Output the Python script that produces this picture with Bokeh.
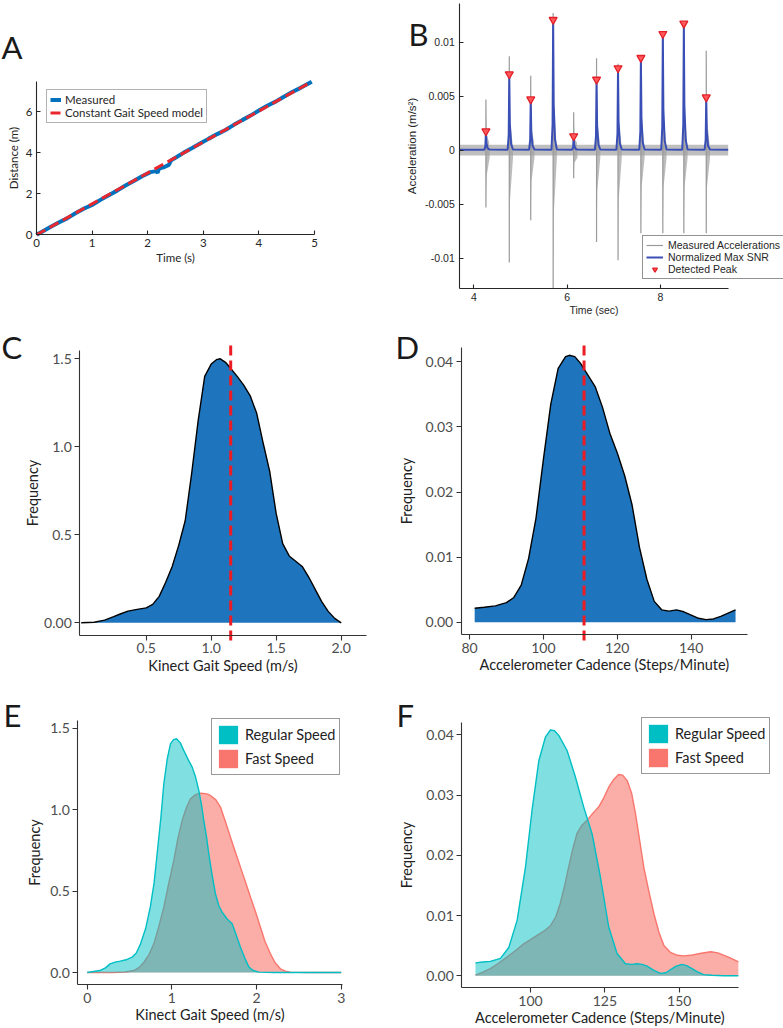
from bokeh.plotting import figure
from bokeh.layouts import column, row
from bokeh.models import Range1d, FixedTicker, Legend, LegendItem, Label, NumeralTickFormatter
from bokeh.embed import file_html
from bokeh.resources import INLINE

# ---------------- Panel A: distance over time ----------------
time_s = [0.0, 0.1, 0.25, 0.4, 0.55, 0.7, 0.85, 1.0, 1.15, 1.3, 1.45, 1.6, 1.75, 1.9,
          2.05, 2.15, 2.18, 2.2, 2.3, 2.38, 2.42, 2.5, 2.65, 2.8, 2.95, 3.1, 3.25, 3.4,
          3.55, 3.7, 3.85, 4.0, 4.15, 4.3, 4.45, 4.6, 4.75, 4.95]
distance_m = [0.0, 0.15, 0.38, 0.6, 0.8, 1.05, 1.27, 1.45, 1.7, 1.93, 2.15, 2.4, 2.62, 2.85,
              3.05, 3.1, 3.02, 3.22, 3.3, 3.4, 3.62, 3.75, 4.0, 4.22, 4.45, 4.68, 4.9, 5.1,
              5.35, 5.58, 5.8, 6.05, 6.28, 6.48, 6.72, 6.95, 7.15, 7.45]
model_time = [0.0, 4.95]
model_distance = [0.0, 7.45]

# ---------------- Panel B: step detection ----------------
step_t = [4.26, 4.76, 5.22, 5.70, 6.14, 6.63, 7.09, 7.58, 8.05, 8.50, 8.98]
peak_snr = [0.00176, 0.00704, 0.00472, 0.01207, 0.0013, 0.00654, 0.0076, 0.00855, 0.01077, 0.01173, 0.0049]
acc_pos = [0.0047, 0.0087, 0.0069, 0.0127, 0.0035, 0.0085, 0.0080, 0.0087, 0.0105, 0.0118, 0.0092]
acc_neg = [-0.0053, -0.0104, -0.0065, -0.0128, -0.0026, -0.0085, -0.0102, -0.0077, -0.0077, -0.0077, -0.0077]
noise_level = 0.0005
signal_span = [3.70, 9.45]

# ---------------- Panel C: gait speed density ----------------
speed_x = [0.0, 0.10, 0.18, 0.25, 0.30, 0.36, 0.42, 0.50, 0.55, 0.60, 0.65, 0.70, 0.75, 0.80,
           0.85, 0.90, 0.95, 1.00, 1.04, 1.07, 1.11, 1.15, 1.20, 1.25, 1.30, 1.35, 1.40, 1.45,
           1.50, 1.55, 1.60, 1.65, 1.70, 1.75, 1.80, 1.85, 1.90, 1.95, 2.00]
speed_y = [0.0, 0.003, 0.015, 0.035, 0.05, 0.066, 0.075, 0.085, 0.105, 0.15, 0.23, 0.32, 0.44, 0.58,
           0.85, 1.15, 1.40, 1.47, 1.495, 1.5, 1.48, 1.445, 1.40, 1.35, 1.29, 1.19, 1.02, 0.86,
           0.62, 0.45, 0.38, 0.35, 0.32, 0.26, 0.19, 0.12, 0.065, 0.025, 0.0]
mean_speed = 1.15

# ---------------- Panel D: cadence density ----------------
cad_x = [81.4, 84, 87, 90, 92, 94, 96, 98, 100, 102, 104, 106, 107, 108.5, 110, 112, 114, 116,
         118, 120, 122, 124, 126, 128, 130, 132, 134, 136, 138, 140, 142, 144, 146, 148, 150, 152]
cad_y = [0.00215, 0.0023, 0.0025, 0.003, 0.0038, 0.0057, 0.0098, 0.016, 0.025, 0.0335, 0.039,
         0.0408, 0.041, 0.0408, 0.0398, 0.038, 0.0362, 0.0330, 0.0290, 0.0260, 0.0225, 0.018,
         0.0115, 0.0066, 0.0032, 0.0019, 0.0017, 0.0019, 0.0016, 0.0011, 0.0006, 0.0004, 0.0005,
         0.0009, 0.0014, 0.0019]
mean_cadence = 111.0

# ---------------- Panel E: gait speed by condition ----------------
reg_speed_x = [0.0, 0.15, 0.22, 0.27, 0.33, 0.39, 0.46, 0.53, 0.58, 0.63, 0.69, 0.745, 0.79, 0.826,
               0.87, 0.905, 0.945, 0.984, 1.02, 1.055, 1.10, 1.14, 1.19, 1.24, 1.28, 1.318, 1.35,
               1.377, 1.41, 1.436, 1.475, 1.515, 1.555, 1.594, 1.65, 1.712, 1.76, 1.81, 1.86, 1.91,
               1.96, 2.03, 2.2, 2.5, 3.0]
reg_speed_y = [0.0, 0.012, 0.03, 0.053, 0.064, 0.07, 0.078, 0.094, 0.12, 0.176, 0.27, 0.401, 0.55,
               0.729, 0.95, 1.159, 1.31, 1.405, 1.43, 1.435, 1.41, 1.364, 1.31, 1.261, 1.2, 1.118,
               1.03, 0.934, 0.83, 0.729, 0.6, 0.483, 0.41, 0.37, 0.33, 0.299, 0.23, 0.155, 0.09,
               0.033, 0.012, 0.002, 0.0, 0.0, 0.0]
fast_speed_x = [0.0, 0.3, 0.45, 0.552, 0.61, 0.67, 0.73, 0.787, 0.845, 0.905, 0.96, 1.023, 1.07,
                1.122, 1.17, 1.22, 1.28, 1.338, 1.40, 1.456, 1.52, 1.574, 1.63, 1.692, 1.75, 1.81,
                1.87, 1.928, 1.99, 2.046, 2.10, 2.164, 2.22, 2.282, 2.34, 2.4, 2.6, 3.0]
fast_speed_y = [0.0, 0.0, 0.003, 0.012, 0.03, 0.063, 0.11, 0.176, 0.28, 0.401, 0.54, 0.688, 0.82,
                0.934, 1.01, 1.067, 1.092, 1.101, 1.098, 1.087, 1.06, 1.016, 0.93, 0.831, 0.74,
                0.647, 0.555, 0.463, 0.37, 0.278, 0.19, 0.115, 0.06, 0.023, 0.008, 0.002, 0.0, 0.0]

# ---------------- Panel F: cadence by condition ----------------
reg_cad_x = [81.5, 84, 86.5, 89.9, 92.7, 95.5, 98.3, 100.5, 102.8, 105, 106.7, 108, 109.5, 112.3,
             115.1, 117.9, 120.7, 123.5, 126.3, 129.1, 131.9, 134, 135.8, 137.5, 139.2, 141.5,
             143.7, 145.5, 147, 149, 150.9, 152.5, 154.3, 156, 158.2, 161, 165, 169.9]
reg_cad_y = [0.00215, 0.0023, 0.0024, 0.0029, 0.0047, 0.0092, 0.018, 0.0274, 0.0357, 0.0396,
             0.0408, 0.0407, 0.0399, 0.0374, 0.033, 0.028, 0.0236, 0.0164, 0.0081, 0.0037, 0.002,
             0.0019, 0.002, 0.0019, 0.0016, 0.0009, 0.0004, 0.0005, 0.001, 0.0016, 0.0019, 0.0017,
             0.0012, 0.0007, 0.0002, 0.0001, 0.0, 0.0]
fast_cad_x = [81.5, 84, 86.5, 89, 92.1, 95, 97.7, 100, 102.2, 104.5, 106.7, 108.5, 110, 111.5,
              112.8, 114.2, 115.6, 117.3, 119, 121, 122.9, 124.6, 126.3, 128, 129.6, 131, 132.5,
              134, 135.3, 136.7, 138.1, 139.8, 141.5, 143.2, 144.9, 147, 149.4, 151.5, 153.8,
              157, 160.6, 163, 165.1, 167.5, 169.9]
fast_cad_y = [0.0001, 0.0006, 0.0012, 0.002, 0.0031, 0.0042, 0.0053, 0.006, 0.0067, 0.0074,
              0.0083, 0.0098, 0.012, 0.015, 0.018, 0.021, 0.0236, 0.025, 0.0258, 0.027, 0.028,
              0.0295, 0.0313, 0.0326, 0.0334, 0.0333, 0.0324, 0.0303, 0.0269, 0.0225, 0.018,
              0.014, 0.0103, 0.0072, 0.005, 0.0039, 0.0034, 0.0033, 0.0034, 0.0037, 0.004,
              0.0038, 0.0034, 0.0029, 0.0023]

SANS = "Lato"
HELV = "Liberation Sans"
TEAL = "#00BFC4"
SALMON = "#F8766D"


def panel(w, h, fx, fy, xcal, ycal, xbounds, ybounds):
    """Figure whose plot area fills the whole tile; axes sit at fixed data positions.

    fx, fy: page position of the tile's top-left corner.
    xcal / ycal: two (page pixel, data value) pairs fixing each scale.
    """
    (px1, v1), (px2, v2) = xcal
    kx = (v2 - v1) / (px2 - px1)
    x_lo, x_hi = v1 + (fx - px1) * kx, v1 + (fx + w - px1) * kx
    (py1, u1), (py2, u2) = ycal
    ky = (u2 - u1) / (py2 - py1)
    y_hi, y_lo = u1 + (fy - py1) * ky, u1 + (fy + h - py1) * ky
    p = figure(width=w, height=h, x_range=Range1d(x_lo, x_hi), y_range=Range1d(y_lo, y_hi),
               output_backend="svg", toolbar_location=None, tools="",
               min_border=0, min_border_left=0, min_border_right=0,
               min_border_top=0, min_border_bottom=0)
    p.outline_line_color = None
    p.xgrid.visible = False
    p.ygrid.visible = False
    p.background_fill_color = "white"
    p.border_fill_color = "white"
    p.xaxis.fixed_location = ybounds[0]
    p.xaxis.bounds = xbounds
    p.yaxis.fixed_location = xbounds[0]
    p.yaxis.bounds = ybounds
    return p


def style_axis(ax, ticks, font, size, color, line_color, tick_in, tick_out, std,
               label, label_size, label_std, label_color, overrides=None, fmt=None):
    ax.ticker = FixedTicker(ticks=ticks)
    ax.minor_tick_line_color = None
    ax.axis_line_color = line_color
    ax.axis_line_width = 1.1
    ax.major_tick_line_color = line_color
    ax.major_tick_line_width = 1.1
    ax.major_tick_in = tick_in
    ax.major_tick_out = tick_out
    ax.major_label_standoff = std
    ax.major_label_text_font = font
    ax.major_label_text_font_size = size
    ax.major_label_text_color = color
    ax.axis_label = label
    ax.axis_label_text_font = font
    ax.axis_label_text_font_size = label_size
    ax.axis_label_text_font_style = "normal"
    ax.axis_label_text_color = label_color
    ax.axis_label_standoff = label_std
    if fmt is not None:
        ax.formatter = fmt
    if overrides is not None:
        ax.major_label_overrides = overrides


def letter(p, text, x, y):
    p.add_layout(Label(x=x, y=y, x_units="screen", y_units="screen", text=text,
                       text_font=SANS, text_font_size="31px", text_color="#1a1a1a",
                       text_baseline="alphabetic"))


def swatch_legend(p, colors, labels, loc, park_x, park_y):
    # solid swatches: empty-looking quads parked outside the visible ranges
    items = []
    for col, lab in zip(colors, labels):
        r = p.quad(left=[park_x], right=[park_x], bottom=[park_y], top=[park_y],
                   fill_color=col, line_color=None)
        items.append(LegendItem(label=lab, renderers=[r]))
    leg = Legend(items=items, location=loc, padding=4, spacing=1, glyph_width=24,
                 glyph_height=23, label_height=23, label_standoff=5, label_text_font=SANS,
                 label_text_font_size="14.5px", label_text_color="#222222",
                 border_line_color="#333333", border_line_width=1.5, background_fill_alpha=1)
    p.add_layout(leg, "center")


# ================= A =================
pa = panel(390, 320, 0, 0, ((36, 0), (314, 5)), ((234.3, 0), (111, 6)), (0, 5), (0, 7.47))
meas = pa.line(time_s, distance_m, line_color="#0072BD", line_width=4)
model = pa.line(model_time, model_distance, line_color="#E8282E", line_width=3, line_dash="10 5")
style_axis(pa.xaxis[0], [0, 1, 2, 3, 4, 5], SANS, "11.5px", "#262626", "#262626", 4, 0, 4,
           "Time (s)", "11.5px", 1, "#262626")
style_axis(pa.yaxis[0], [0, 2, 4, 6], SANS, "11.5px", "#262626", "#262626", 4, 0, 4,
           "Distance (m)", "11.5px", 3, "#262626")
leg_a = Legend(items=[LegendItem(label="Measured", renderers=[meas]),
                      LegendItem(label="Constant Gait Speed model", renderers=[model])],
               location=(46, 197), padding=3, spacing=0, glyph_width=11,
               glyph_height=13, label_height=13, label_standoff=4,
               label_text_font=SANS, label_text_font_size="11.5px", label_text_color="#262626",
               border_line_color="#666666", border_line_width=1, background_fill_alpha=1)
pa.add_layout(leg_a, "center")
letter(pa, "A", 1, 274)

# ================= B =================
pb = panel(393, 320, 390, 0, ((473.3, 4), (660, 8)), ((149.67, 0), (41.67, 0.01)),
           (3.70, 9.45), (-0.01284, 0.01355))
pb.varea(x=signal_span, y1=[-noise_level] * 2, y2=[noise_level] * 2,
         fill_color="#b4b4b4", fill_alpha=0.85)
fan_xs, fan_ys = [], []
for t, hi, lo in zip(step_t, acc_pos, acc_neg):
    fan_xs.append([t - 0.006, t, t + 0.015, t + 0.08, t + 0.08])
    fan_ys.append([0, lo, 0.45 * lo, -1.4 * noise_level, 0])
    fan_xs.append([t - 0.008, t, t + 0.02, t + 0.07, t + 0.07])
    fan_ys.append([0, hi, 0.3 * hi, 1.4 * noise_level, 0])
pb.patches(fan_xs, fan_ys, fill_color="#a0a0a0", fill_alpha=0.7, line_color=None)
spikes = pb.segment(x0=step_t, y0=acc_neg, x1=step_t, y1=acc_pos,
                    line_color="#9a9a9a", line_width=1.2)
snr_x, snr_y = [signal_span[0]], [0.00004]
for t, pk in zip(step_t, peak_snr):
    snr_x += [t - 0.035, t - 0.012, t, t + 0.012, t + 0.04, t + 0.08]
    snr_y += [0.00004, 0.2 * pk, pk, 0.35 * pk, 0.08 * pk, 0.00006]
snr_x.append(signal_span[1])
snr_y.append(0.00004)
snr = pb.line(snr_x, snr_y, line_color="#3a4fb5", line_width=2)
peaks = pb.scatter(step_t, peak_snr, marker="inverted_triangle", size=8,
                   fill_color="#ff5a5a", line_color="#e3202a", line_width=1.3)
style_axis(pb.xaxis[0], [4, 6, 8], HELV, "10.5px", "#262626", "#262626", 4, 0, 4,
           "Time (sec)", "10.5px", 0, "#262626")
style_axis(pb.yaxis[0], [-0.01, -0.005, 0, 0.005, 0.01], HELV, "10.5px", "#262626", "#262626",
           4, 0, 5, "Acceleration (m/s²)", "11.5px", 4, "#262626",
           overrides={-0.01: "-0.01", -0.005: "-0.005", 0: "0", 0.005: "0.005", 0.01: "0.01"})
leg_b = Legend(items=[LegendItem(label="Measured Accelerations", renderers=[spikes]),
                      LegendItem(label="Normalized Max SNR", renderers=[snr]),
                      LegendItem(label="Detected Peak", renderers=[peaks])],
               location=(252, 41), padding=3, spacing=0, glyph_width=17, glyph_height=12,
               label_height=12, label_standoff=5, label_text_font=HELV,
               label_text_font_size="10.5px", label_text_color="#262626",
               border_line_color="#262626", border_line_width=1, background_fill_alpha=1)
pb.add_layout(leg_b, "center")
letter(pb, "B", 18, 287)

# ================= C =================
pc = panel(390, 360, 0, 320, ((145.7, 0.5), (340.7, 2.0)), ((622.3, 0), (358.3, 1.5)),
           (-0.011, 2.195), (-0.072, 1.547))
pc.varea(x=speed_x, y1=[0] * len(speed_x), y2=speed_y, fill_color="#1f75bd")
pc.line(speed_x, speed_y, line_color="black", line_width=1.4)
pc.line([mean_speed, mean_speed], [-0.1, 1.575], line_color="#EC1C24", line_width=3, line_dash="10 5")
style_axis(pc.xaxis[0], [0.5, 1.0, 1.5, 2.0], SANS, "14px", "#4d4d4d", "#333333", 0, 5, 3,
           "Kinect Gait Speed (m/s)", "14.5px", 0, "#222222",
           overrides={0.5: "0.5", 1.0: "1.0", 1.5: "1.5", 2.0: "2.0"})
style_axis(pc.yaxis[0], [0, 0.5, 1.0, 1.5], SANS, "14px", "#4d4d4d", "#333333", 0, 5, 3,
           "Frequency", "14.5px", 0, "#222222",
           overrides={0: "0.00", 0.5: "0.5", 1.0: "1.0", 1.5: "1.5"})
letter(pc, "C", 1, 334)

# ================= D =================
pd_ = panel(393, 360, 390, 320, ((469, 80), (690.7, 140)), ((621.7, 0), (361.3, 0.04)),
            (77.75, 155.16), (-0.00189, 0.04224))
pd_.varea(x=cad_x, y1=[0] * len(cad_x), y2=cad_y, fill_color="#1f75bd")
pd_.line(cad_x, cad_y, line_color="black", line_width=1.4)
pd_.line([mean_cadence, mean_cadence], [-0.0028, 0.043], line_color="#EC1C24", line_width=3,
         line_dash="10 5")
style_axis(pd_.xaxis[0], [80, 100, 120, 140], SANS, "14px", "#4d4d4d", "#333333", 0, 5, 3,
           "Accelerometer Cadence (Steps/Minute)", "14.5px", 0, "#222222")
style_axis(pd_.yaxis[0], [0, 0.01, 0.02, 0.03, 0.04], SANS, "14px", "#4d4d4d", "#333333", 0, 5, 3,
           "Frequency", "14.5px", 8, "#222222", fmt=NumeralTickFormatter(format="0.00"))
letter(pd_, "D", 5, 334)

# ================= E =================
pe = panel(390, 348, 0, 680, ((86.7, 0), (340.7, 3)), ((972, 0), (727.7, 1.5)),
           (-0.111, 3.019), (-0.0755, 1.547))
pe.varea(x=fast_speed_x, y1=[0] * len(fast_speed_x), y2=fast_speed_y, fill_color=SALMON, fill_alpha=0.6)
pe.line(fast_speed_x, fast_speed_y, line_color=SALMON, line_width=1.4)
pe.varea(x=reg_speed_x, y1=[0] * len(reg_speed_x), y2=reg_speed_y, fill_color=TEAL, fill_alpha=0.5)
pe.line(reg_speed_x, reg_speed_y, line_color=TEAL, line_width=1.4)
style_axis(pe.xaxis[0], [0, 1, 2, 3], SANS, "14px", "#4d4d4d", "#333333", 0, 5, 3,
           "Kinect Gait Speed (m/s)", "14.5px", 0, "#222222")
style_axis(pe.yaxis[0], [0, 0.5, 1.0, 1.5], SANS, "14px", "#4d4d4d", "#333333", 0, 5, 3,
           "Frequency", "14.5px", 4, "#222222",
           overrides={0: "0.0", 0.5: "0.5", 1.0: "1.0", 1.5: "1.5"})
swatch_legend(pe, [TEAL, SALMON], ["Regular Speed", "Fast Speed"], (211, 253), -50, -50)
letter(pe, "E", 3, 314)

# ================= F =================
pf = panel(393, 348, 390, 680, ((530, 100), (678.7, 150)), ((975.3, 0), (734.3, 0.04)),
           (76.9, 170.0), (-0.00199, 0.04199))
pf.varea(x=fast_cad_x, y1=[0] * len(fast_cad_x), y2=fast_cad_y, fill_color=SALMON, fill_alpha=0.6)
pf.line(fast_cad_x, fast_cad_y, line_color=SALMON, line_width=1.4)
pf.varea(x=reg_cad_x, y1=[0] * len(reg_cad_x), y2=reg_cad_y, fill_color=TEAL, fill_alpha=0.5)
pf.line(reg_cad_x, reg_cad_y, line_color=TEAL, line_width=1.4)
style_axis(pf.xaxis[0], [100, 125, 150], SANS, "14px", "#4d4d4d", "#333333", 0, 5, 3,
           "Accelerometer Cadence (Steps/Minute)", "14.5px", 0, "#222222")
style_axis(pf.yaxis[0], [0, 0.01, 0.02, 0.03, 0.04], SANS, "14px", "#4d4d4d", "#333333", 0, 5, 3,
           "Frequency", "14.5px", 8, "#222222", fmt=NumeralTickFormatter(format="0.00"))
swatch_legend(pf, [TEAL, SALMON], ["Regular Speed", "Fast Speed"], (251, 254), -500, -1)
letter(pf, "F", 6, 314)

page = column(row(pa, pb), row(pc, pd_), row(pe, pf))

open("out.html", "w").write(file_html(page, INLINE))
